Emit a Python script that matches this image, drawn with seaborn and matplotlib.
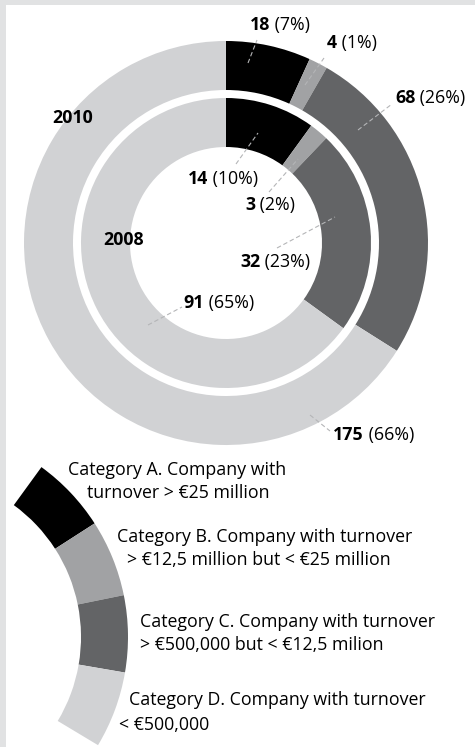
import matplotlib
matplotlib.use("Agg")
import matplotlib.pyplot as plt
from matplotlib.patches import Rectangle, Wedge
import seaborn as sns

# Company counts per turnover category
categories = ["A", "B", "C", "D"]
values_2010 = [18, 4, 68, 175]
values_2008 = [14, 3, 32, 91]
pct_2010 = [7, 1, 26, 66]
pct_2008 = [10, 2, 23, 65]
years = ["2010", "2008"]
legend_lines = [
    ["Category A. Company with", "turnover > €25 million"],
    ["Category B. Company with turnover", "> €12,5 million but < €25 million"],
    ["Category C. Company with turnover", "> €500,000 but < €12,5 milion"],
    ["Category D. Company with turnover", "< €500,000"],
]

sns.set_theme(style="white")
plt.rcParams["font.family"] = ["Open Sans", "DejaVu Sans"]
colors = ["#000000", "#a1a2a4", "#636466", "#d1d2d4"]
palette = sns.color_palette(colors)

W, H = 475, 747
fig = plt.figure(figsize=(W / 100, H / 100), dpi=100, facecolor="#e1e2e3")
ax = fig.add_axes([0, 0, 1, 1])
ax.set_facecolor("none")


def P(x, y):
    """Pixel position (origin top-left) to data coordinates."""
    return (x, H - y)


# white panel
ax.add_patch(Rectangle((6, 0), W - 6, H - 5, facecolor="white", edgecolor="none", zorder=0))

# two concentric donuts: 2010 outside, 2008 inside
center = P(226, 243)
ring = dict(width=49, linewidth=0, antialiased=True)
ax.pie(values_2010, colors=palette, startangle=90, counterclock=False,
       radius=202, center=center, wedgeprops=ring)
ax.pie(values_2008, colors=palette, startangle=90, counterclock=False,
       radius=145, center=center, wedgeprops=ring)

LABEL_FS = 12.8
lead_style = dict(color="#b4b5b7", lw=0.8, ls=(0, (4, 2.5)))


def value_label(x, y, num, pct, start, end):
    ax.plot(*zip(P(*start), P(*end)), **lead_style, zorder=3)
    t = ax.text(*P(x, y), f"{num}", fontsize=LABEL_FS, fontweight="bold",
                ha="left", va="center", color="black", zorder=4)
    ax.annotate(f" ({pct}%)", xy=(1, 0), xycoords=t, fontsize=LABEL_FS,
                ha="left", va="bottom", color="black", zorder=4)


outer_pos = [(250, 25, (248, 63), (257, 40)),
             (327, 43, (305, 85), (324, 58)),
             (395, 98, (358, 130), (392, 104)),
             (333, 435, (310, 415), (330, 431))]
inner_pos = [(188, 179, (236, 164), (258, 133)),
             (245, 205, (269, 192), (298, 159)),
             (240, 262, (277, 248), (335, 217)),
             (183, 303, (148, 325), (182, 307))]

for v, p, (x, y, s, e) in zip(values_2010, pct_2010, outer_pos):
    value_label(x, y, v, p, s, e)
for v, p, (x, y, s, e) in zip(values_2008, pct_2008, inner_pos):
    value_label(x, y, v, p, s, e)

for yr, (x, y) in zip(years, [(52, 118), (103, 240)]):
    ax.text(*P(x, y), yr, fontsize=LABEL_FS, fontweight="bold",
            ha="left", va="center", color="black")

# legend: curved swatches
leg_center = P(-82, 637)
top_angle, step = 54.0, 21.25
for i, c in enumerate(palette):
    t2 = top_angle - i * step
    ax.add_patch(Wedge(leg_center, 210, t2 - step, t2, width=47,
                       facecolor=c, edgecolor="none", zorder=2))

LEG_FS = 12.8
leg_pos = [[(68, 470), (87, 493)],
           [(117, 537), (127, 560)],
           [(140, 622), (140, 645)],
           [(129, 700), (119, 725)]]
for lines, poss in zip(legend_lines, leg_pos):
    for txt, (x, y) in zip(lines, poss):
        ax.text(*P(x, y), txt, fontsize=LEG_FS, ha="left", va="center",
                color="black", zorder=4)

ax.set_xlim(0, W)
ax.set_ylim(0, H)
ax.set_aspect("equal")
ax.axis("off")

fig.savefig("out.png", dpi=100, facecolor=fig.get_facecolor())
